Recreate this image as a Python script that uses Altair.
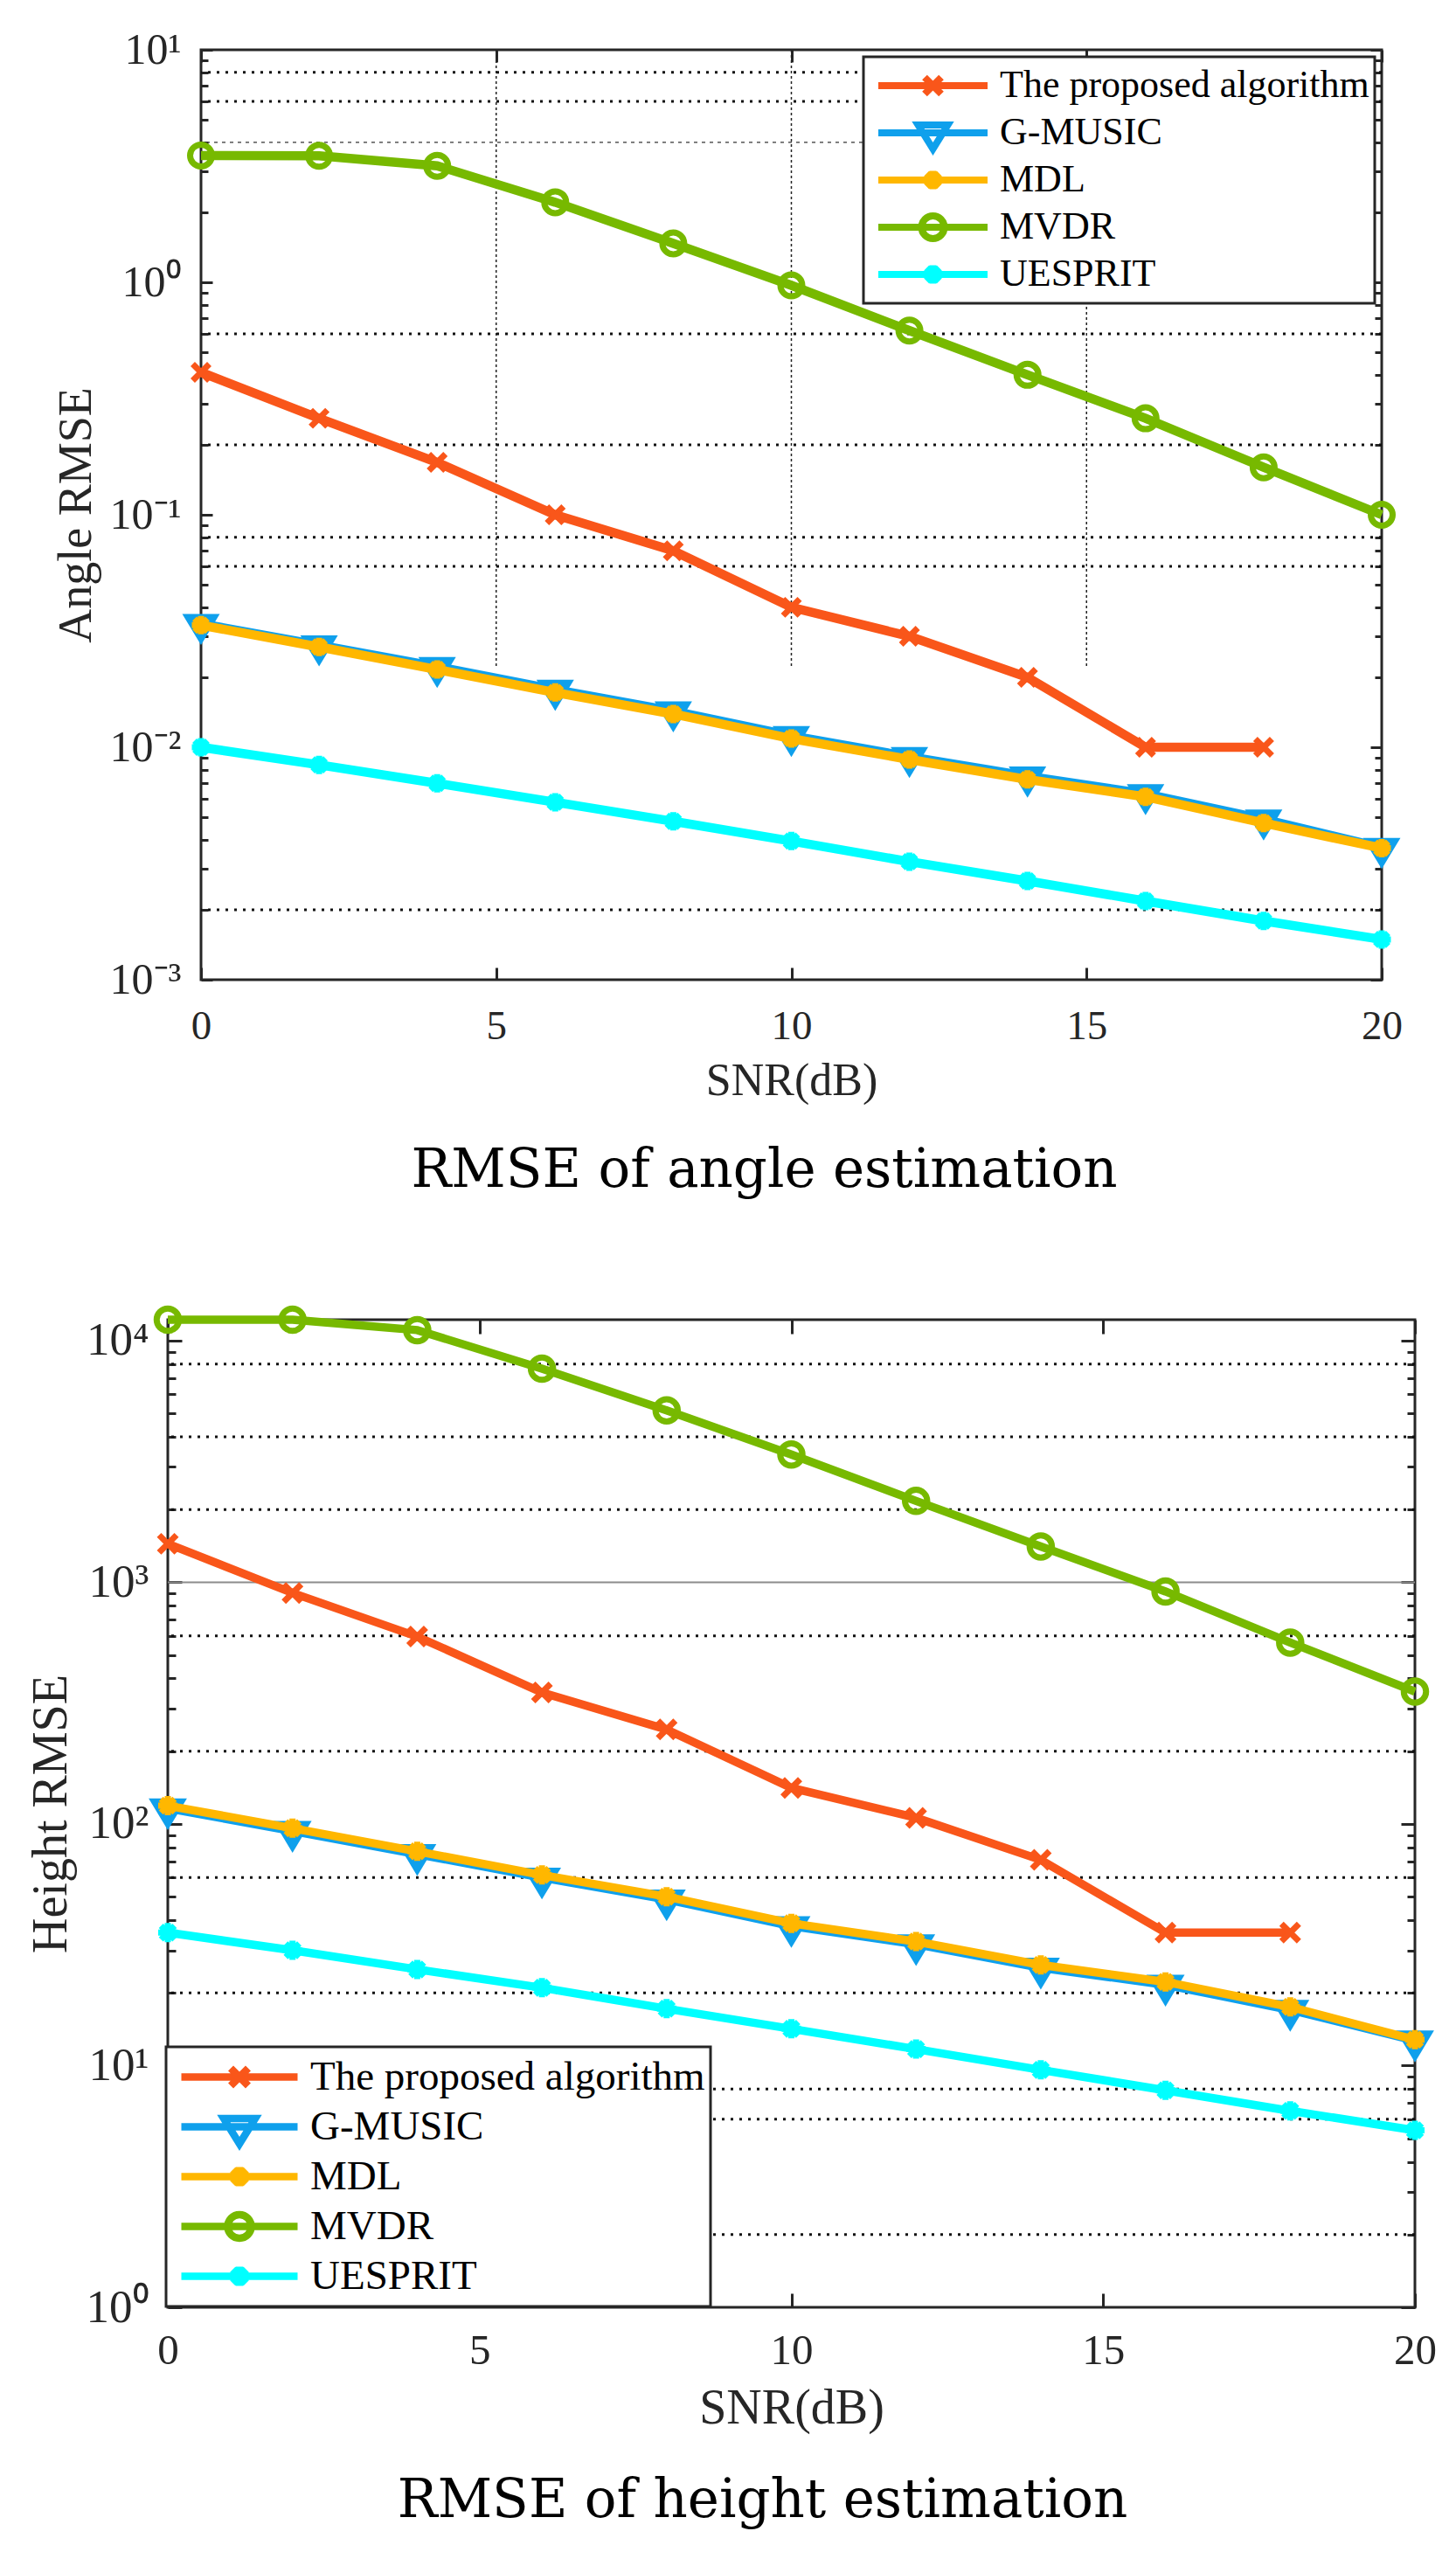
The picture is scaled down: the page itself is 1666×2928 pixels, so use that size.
import altair as alt
import pandas as pd

# ---------------- data ----------------
SNR = [0, 2, 4, 6, 8, 10, 12, 14, 16, 18, 20]
SNR_PROPOSED = [0, 2, 4, 6, 8, 10, 12, 14, 16, 18]
SERIES = ["The proposed algorithm", "G-MUSIC", "MDL", "MVDR", "UESPRIT"]
COLORS = ["#F9561A", "#0FA0EC", "#FFB700", "#77B900", "#00FFFF"]

# Angle RMSE
ANGLE_PROPOSED = [0.41, 0.26, 0.168, 0.100, 0.070, 0.040, 0.030, 0.020, 0.010, 0.010]
ANGLE_GMUSIC = [0.0340, 0.0275, 0.0222, 0.0177, 0.0143, 0.0112, 0.0091, 0.0075, 0.0063, 0.0049, 0.0037]
ANGLE_MDL = [0.0335, 0.0270, 0.0216, 0.0172, 0.0139, 0.0109, 0.00886, 0.00727, 0.00612, 0.00472, 0.00368]
ANGLE_MVDR = [3.51, 3.50, 3.17, 2.21, 1.47, 0.97, 0.62, 0.40, 0.26, 0.16, 0.10]
ANGLE_UESPRIT = [0.0100, 0.0084, 0.0070, 0.0058, 0.0048, 0.00395, 0.00322, 0.00266, 0.00218, 0.00179, 0.00149]

# Height RMSE
HEIGHT_PROPOSED = [1443, 903, 596, 350, 246, 141, 106, 71, 35.5, 35.5]
HEIGHT_GMUSIC = [116, 93.5, 75, 60, 48.7, 37.8, 31.8, 25.4, 21.6, 17.0, 12.7]
HEIGHT_MDL = [119, 96, 77, 61.5, 50, 38.8, 32.6, 26.1, 22.2, 17.5, 12.8]
HEIGHT_MVDR = [12200, 12200, 11050, 7650, 5140, 3380, 2170, 1406, 916, 563, 353]
HEIGHT_UESPRIT = [35.5, 30, 25, 21, 17.2, 14.2, 11.7, 9.6, 7.9, 6.5, 5.4]

# axis ticks / grid lines seen in the picture
X_TICKS = [0, 5, 10, 15, 20]
ANGLE_MAJOR = [0.001, 0.01, 0.1, 1, 10]
ANGLE_MINOR = [m * d for d in [0.001, 0.01, 0.1, 1] for m in range(2, 10)]
ANGLE_GRID_DOTTED = [8, 6, 0.6, 0.2, 0.08, 0.06, 0.002]
ANGLE_GRID_THIN = [4]
ANGLE_VGRID_X = [5, 10, 15]
ANGLE_VGRID_Y = [10, 0.022]
HEIGHT_MAJOR = [1, 10, 100, 1000, 10000]
HEIGHT_MINOR = [m * d for d in [1, 10, 100, 1000] for m in range(2, 10)]
HEIGHT_GRID_DOTTED = [8000, 4000, 2000, 600, 200, 60, 20, 8, 6, 2]
HEIGHT_GRID_GRAY = [1000]

LAB = "Liberation Serif"
TTL = "DejaVu Serif"
INK = "#262626"


def make_df(proposed, gmusic, mdl, mvdr, uesprit):
    rows = []
    for name, xs, ys in [
        (SERIES[0], SNR_PROPOSED, proposed),
        (SERIES[1], SNR, gmusic),
        (SERIES[2], SNR, mdl),
        (SERIES[3], SNR, mvdr),
        (SERIES[4], SNR, uesprit),
    ]:
        for x, y in zip(xs, ys):
            rows.append({"snr": x, "value": y, "series": name})
    return pd.DataFrame(rows)


def fmt(v):
    return ("%.3f" % v).rstrip("0").rstrip(".")


def legend_paths(u, cross, tw, ttop, tapex, ast, r):
    c, a, a2 = fmt(cross / u), fmt(ast / u), fmt(0.71 * ast / u)
    line = "M-1,0L1,0"
    p_cross = f"{line}M-{c},-{c}L{c},{c}M-{c},{c}L{c},-{c}"
    p_tri = f"{line}M-{fmt(tw/u)},-{fmt(ttop/u)}L{fmt(tw/u)},-{fmt(ttop/u)}L0,{fmt(tapex/u)}Z"
    p_ast = f"{line}M0,-{a}L0,{a}M-{a},0L{a},0M-{a2},-{a2}L{a2},{a2}M-{a2},{a2}L{a2},-{a2}"
    rr = fmt(r / u)
    p_circ = f"{line}M{rr},0A{rr},{rr},0,1,1,-{rr},0A{rr},{rr},0,1,1,{rr},0"
    return [p_cross, p_tri, p_ast, p_circ, p_ast]


CROSS = "M-1,-1L1,1M-1,1L1,-1"
TRI = "M-0.875,-0.45L0.875,-0.45L0,1Z"
AST = "M0,-1L0,1M-1,0L1,0M-0.71,-0.71L0.71,0.71M-0.71,0.71L0.71,-0.71"

LABEL_EXPR = ("'10' + (round(log(datum.value)/LN10) < 0 ? '\u207b' : '') + "
              "['\u2070','\u00b9','\u00b2','\u00b3','\u2074'][abs(round(log(datum.value)/LN10))]")


def build(df, c):
    xs = alt.Scale(domain=[0, 20], nice=False, zero=False)
    ys = alt.Scale(type="log", domain=c["ydomain"], nice=False)

    def X(ax=None):
        return alt.X("snr:Q", scale=xs, axis=ax)

    def Y(ax=None):
        return alt.Y("value:Q", scale=ys, axis=ax)

    layers = []
    # grid lines
    layers.append(
        alt.Chart(pd.DataFrame({"value": c["grid_dotted"]}))
        .mark_rule(color="#111111", strokeWidth=3, strokeDash=[3, 7])
        .encode(y=Y())
    )
    if c.get("grid_thin"):
        layers.append(
            alt.Chart(pd.DataFrame({"value": c["grid_thin"]}))
            .mark_rule(color="#333333", strokeWidth=1.2, strokeDash=[4, 5])
            .encode(y=Y())
        )
    if c.get("grid_gray"):
        layers.append(
            alt.Chart(pd.DataFrame({"value": c["grid_gray"]}))
            .mark_rule(color="#8c8c8c", strokeWidth=2)
            .encode(y=Y())
        )
    if c.get("vgrid_x"):
        vg = pd.DataFrame({"snr": c["vgrid_x"],
                           "value": [c["vgrid_y"][0]] * len(c["vgrid_x"]),
                           "value2": [c["vgrid_y"][1]] * len(c["vgrid_x"])})
        layers.append(
            alt.Chart(vg).mark_rule(color="#222222", strokeWidth=1.5, strokeDash=[3, 3])
            .encode(x=X(), y=Y(), y2="value2:Q")
        )

    # series: line then markers, in legend order
    for name, color, mk in zip(SERIES, COLORS, c["markers"]):
        src = alt.Chart(df).transform_filter(alt.datum.series == name)
        layers.append(src.mark_line(color=color, strokeWidth=c["lw"]).encode(x=X(), y=Y()))
        layers.append(src.mark_point(color=color, opacity=1, **mk).encode(x=X(), y=Y()))

    # legend layer (no marks drawn)
    S = c["leg_sym"]
    leg = alt.Legend(
        orient="none", legendX=c["leg_x"], legendY=c["leg_y"], title=None,
        labelFont=LAB, labelFontSize=c["leg_fs"], labelColor="black", labelLimit=2000,
        symbolSize=S * S, symbolStrokeWidth=c["leg_lw"], clipHeight=c["leg_row"],
        padding=c["leg_pad"], symbolOffset=c["leg_symoff"], labelOffset=c["leg_laboff"],
        rowPadding=0, fillColor="white", strokeColor=INK, symbolOpacity=1,
    )
    layers.append(
        alt.Chart(df).transform_filter("false")
        .mark_point(filled=False, size=S * S, strokeWidth=c["leg_lw"], opacity=1)
        .encode(
            x=X(), y=Y(),
            color=alt.Color("series:N", scale=alt.Scale(domain=SERIES, range=COLORS), legend=leg),
            shape=alt.Shape("series:N", scale=alt.Scale(domain=SERIES, range=c["leg_paths"]), legend=leg),
        )
    )

    tick = dict(domain=False, grid=False, tickColor=INK, tickWidth=3)
    empty = alt.Chart(df).transform_filter("false").mark_point()
    tx, ty, mn = c["tick_x"], c["tick_y"], c["tick_minor"]
    # main axes: bottom + left with labels and titles
    layers.append(empty.encode(
        x=X(alt.Axis(orient="bottom", values=X_TICKS, format="d", tickSize=tx, offset=-tx,
                     labelPadding=c["xlab_pad"], labelFont=LAB, labelFontSize=c["xlab_fs"],
                     labelColor=INK, labelFlush=False, labelOverlap=False,
                     title="SNR(dB)", titleFont=LAB, titleFontSize=c["xtitle_fs"],
                     titleFontWeight="normal", titleColor=INK, titleBaseline="alphabetic",
                     titleY=c["xtitle_y"], **tick)),
        y=Y(alt.Axis(orient="left", values=c["major"], labelExpr=LABEL_EXPR, tickSize=ty, offset=-ty,
                     labelPadding=c["ylab_pad"], labelFont=LAB, labelFontSize=c["ylab_fs"],
                     labelColor=INK, labelOverlap=False, labelFlush=False, labelBaseline="middle",
                     title=c["ytitle"], titleFont=LAB, titleFontSize=c["ytitle_fs"],
                     titleFontWeight="normal", titleColor=INK, titleBaseline="alphabetic",
                     titleX=c["ytitle_x"], **tick)),
    ))
    # opposite axes: top + right, ticks only
    layers.append(empty.encode(
        x=X(alt.Axis(orient="top", values=X_TICKS, tickSize=tx, offset=-tx, labels=False, title=None, **tick)),
        y=Y(alt.Axis(orient="right", values=c["major"], tickSize=ty, offset=-ty, labels=False, title=None, **tick)),
    ))
    # minor ticks left and right
    layers.append(empty.encode(
        x=X(),
        y=Y(alt.Axis(orient="left", values=c["minor"], tickSize=mn, offset=-mn, labels=False, title=None, **tick)),
    ))
    layers.append(empty.encode(
        x=X(),
        y=Y(alt.Axis(orient="right", values=c["minor"], tickSize=mn, offset=-mn, labels=False, title=None, **tick)),
    ))

    return alt.layer(*layers).properties(
        width=c["w"], height=c["h"],
        title=alt.TitleParams(text=c["title"], orient="bottom", anchor="middle", frame="group",
                              font=TTL, fontSize=61, fontWeight="normal", color="black",
                              offset=c["title_off"], dx=c["title_dx"]),
    )


top_cfg = dict(
    w=1351, h=1064, ydomain=[0.001, 10], major=ANGLE_MAJOR, minor=ANGLE_MINOR,
    grid_dotted=ANGLE_GRID_DOTTED, grid_thin=ANGLE_GRID_THIN,
    vgrid_x=ANGLE_VGRID_X, vgrid_y=ANGLE_VGRID_Y,
    lw=10.5,
    markers=[
        dict(shape=CROSS, size=361, filled=False, strokeWidth=7),
        dict(shape=TRI, size=1849, filled=True, stroke=COLORS[1], strokeWidth=3),
        dict(shape=AST, size=441, filled=False, strokeWidth=7),
        dict(shape="circle", size=625, filled=False, strokeWidth=7),
        dict(shape=AST, size=441, filled=False, strokeWidth=7),
    ],
    leg_sym=125, leg_x=758, leg_y=8, leg_fs=44, leg_lw=8, leg_row=54, leg_pad=6,
    leg_symoff=7, leg_laboff=10,
    leg_paths=legend_paths(62.5, 9.5, 17, 9, 18.5, 10.5, 13),
    tick_x=14, tick_y=13, tick_minor=8,
    xlab_pad=30, xlab_fs=47, xtitle_fs=52, xtitle_y=145,
    ylab_pad=23, ylab_fs=50, ytitle="Angle RMSE", ytitle_fs=54, ytitle_x=-140,
    title="RMSE of angle estimation", title_off=48, title_dx=-31,
)

bottom_cfg = dict(
    w=1427, h=1130, ydomain=[1, 12200], major=HEIGHT_MAJOR, minor=HEIGHT_MINOR,
    grid_dotted=HEIGHT_GRID_DOTTED, grid_gray=HEIGHT_GRID_GRAY,
    lw=9.5,
    markers=[
        dict(shape=CROSS, size=400, filled=False, strokeWidth=7),
        dict(shape=TRI, size=1936, filled=True, stroke=COLORS[1], strokeWidth=3),
        dict(shape=AST, size=484, filled=False, strokeWidth=7),
        dict(shape="circle", size=650, filled=False, strokeWidth=7),
        dict(shape=AST, size=484, filled=False, strokeWidth=7),
    ],
    leg_sym=133, leg_x=-2, leg_y=832, leg_fs=47, leg_lw=8.5, leg_row=57, leg_pad=6,
    leg_symoff=7, leg_laboff=10,
    leg_paths=legend_paths(66.5, 10, 18, 9.5, 19.5, 11, 13.5),
    tick_x=16, tick_y=16, tick_minor=9,
    xlab_pad=25, xlab_fs=49, xtitle_fs=56, xtitle_y=148,
    ylab_pad=22, ylab_fs=53, ytitle="Height RMSE", ytitle_fs=56, ytitle_x=-133,
    title="RMSE of height estimation", title_off=49, title_dx=-33,
)

angle_df = make_df(ANGLE_PROPOSED, ANGLE_GMUSIC, ANGLE_MDL, ANGLE_MVDR, ANGLE_UESPRIT)
height_df = make_df(HEIGHT_PROPOSED, HEIGHT_GMUSIC, HEIGHT_MDL, HEIGHT_MVDR, HEIGHT_UESPRIT)

chart = (
    alt.vconcat(build(angle_df, top_cfg), build(height_df, bottom_cfg),
                spacing=389, bounds="flush", center=True)
    .resolve_scale(color="independent", shape="independent")
    .properties(padding={"left": 20, "top": 22, "right": 5, "bottom": 5}, background="white")
    .configure_view(stroke=INK, strokeWidth=3)
    .configure_legend(strokeWidth=3)
)

chart.save("out.html", embed_options={"renderer": "svg", "actions": False})
